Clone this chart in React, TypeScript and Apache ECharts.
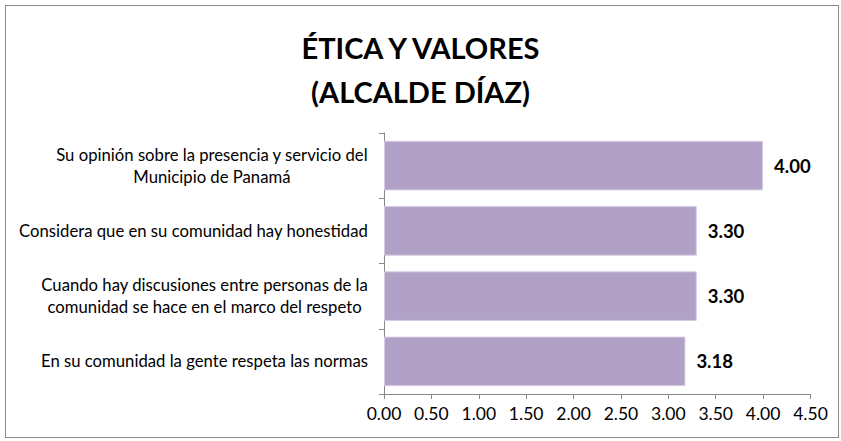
import React, { useEffect, useRef } from "react";
import * as echarts from "echarts";

const titleLines = ["ÉTICA Y VALORES", "(ALCALDE DÍAZ)"];
const categories = [
  "Su opinión sobre la presencia y servicio del\nMunicipio de Panamá",
  "Considera que en su comunidad hay honestidad",
  "Cuando hay discusiones entre personas de la\ncomunidad se hace en el marco del respeto",
  "En su comunidad la gente respeta las normas",
];
const values = [4.0, 3.3, 3.3, 3.18];
const axisMin = 0;
const axisMax = 4.5;
const axisStep = 0.5;

const FONT = "Lato, 'Noto Sans', sans-serif";

export default function App() {
  const ref = useRef<HTMLDivElement>(null);
  useEffect(() => {
    if (!ref.current) return;
    const chart = echarts.init(ref.current, undefined, { renderer: "svg" });
    chart.setOption({
      animation: false,
      backgroundColor: "#ffffff",
      title: {
        text: titleLines.join("\n"),
        left: "center",
        top: 20,
        textStyle: {
          fontFamily: FONT,
          fontWeight: "bold",
          fontSize: 29,
          lineHeight: 44,
          color: "#000000",
        },
      },
      grid: { left: 384, right: 30.5, top: 133, bottom: 47, containLabel: false },
      xAxis: {
        type: "value",
        min: axisMin,
        max: axisMax,
        interval: axisStep,
        splitLine: { show: false },
        axisLine: { show: true, lineStyle: { color: "#888888", width: 1 } },
        axisTick: { show: true, length: 5, inside: false, lineStyle: { color: "#888888" } },
        axisLabel: {
          formatter: (v: number) => v.toFixed(2),
          fontFamily: FONT,
          fontSize: 17.5,
          color: "#000000",
          margin: 10,
          showMaxLabel: true,
          showMinLabel: true,
        },
      },
      yAxis: {
        type: "category",
        data: categories,
        inverse: true,
        axisLine: { show: true, lineStyle: { color: "#888888", width: 1 } },
        axisTick: { show: true, length: 5, lineStyle: { color: "#888888" } },
        axisLabel: {
          margin: 16,
          formatter: (v: string) =>
            v
              .split("\n")
              .map((l) => `{c|${l}}`)
              .join("\n"),
          rich: {
            c: {
              align: "center",
              fontFamily: FONT,
              fontSize: 16.7,
              lineHeight: 22,
              color: "#000000",
            },
          },
        },
      },
      series: [
        {
          type: "bar",
          data: values,
          barCategoryGap: "24%",
          itemStyle: { color: "#B1A1C7", borderColor: "#D5CCE2", borderWidth: 1 },
          label: {
            show: true,
            position: "right",
            distance: 11,
            formatter: (p: any) => Number(p.value).toFixed(2),
            fontFamily: FONT,
            fontWeight: "bold",
            fontSize: 18.5,
            color: "#000000",
          },
        },
      ],
    });
    return () => chart.dispose();
  }, []);
  return (
    <div style={{ position: "fixed", left: 0, top: 0, width: 841, height: 441, background: "#fff" }}>
      <div ref={ref} style={{ position: "absolute", left: 0, top: 0, width: 841, height: 441 }} />
      <div
        style={{
          position: "absolute",
          left: 5,
          top: 5,
          width: 832,
          height: 431,
          border: "1px solid #8c8c8c",
          pointerEvents: "none",
        }}
      />
    </div>
  );
}
